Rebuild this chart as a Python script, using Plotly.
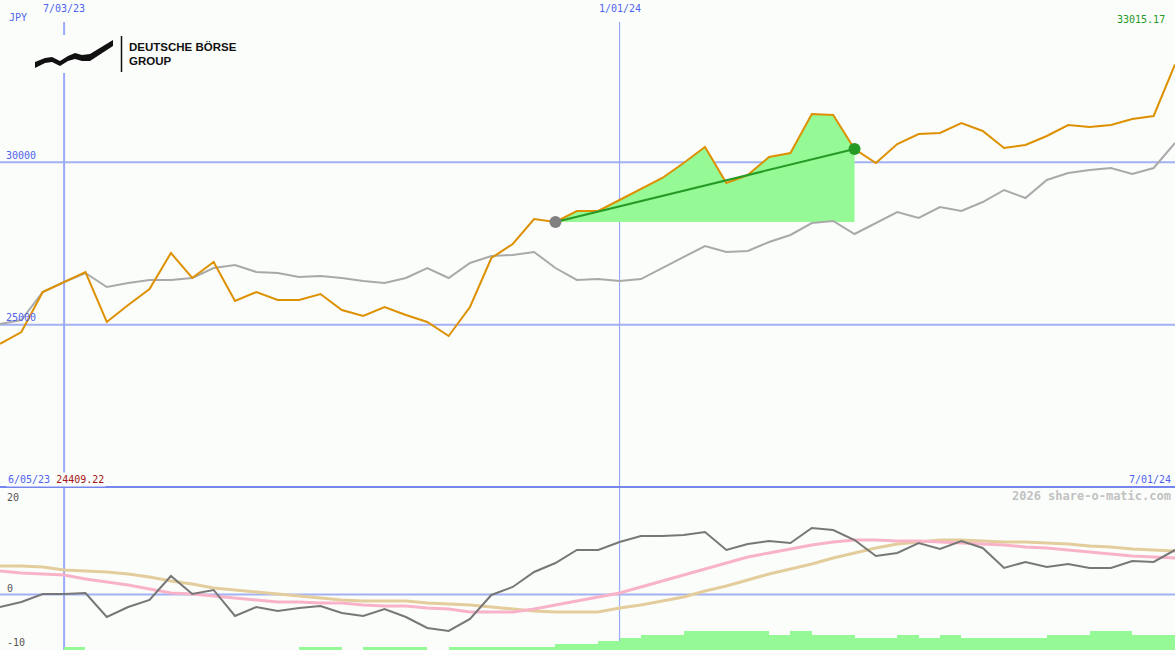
import plotly.graph_objects as go
import pandas as pd

# ---------------- data ----------------
dates = pd.date_range("2023-06-12", periods=56, freq="7D")

price = [24409.22, 24774, 26006, 26314, 26622, 25082, 25606, 26099, 27207, 26437,
         26930, 25729, 26006, 25760, 25760, 25944, 25452, 25267, 25544, 25298,
         25082, 24651, 25544, 27053, 27485, 28255, 28162, 28501, 28501, 28840,
         29179, 29517, 29979, 30472, 29363, 29610, 30164, 30287, 31489, 31458,
         30411, 29979, 30565, 30873, 30903, 31211, 30965, 30441, 30534, 30811,
         31150, 31088, 31150, 31335, 31427, 33015.17]

benchmark = [25020, 25144, 26006, 26314, 26591, 26160, 26283, 26376, 26376, 26437,
             26745, 26838, 26622, 26591, 26468, 26499, 26437, 26345, 26283, 26437,
             26745, 26437, 26899, 27115, 27146, 27238, 26745, 26376, 26406, 26345,
             26406, 26745, 27084, 27423, 27238, 27269, 27546, 27762, 28131, 28193,
             27793, 28131, 28470, 28285, 28624, 28501, 28778, 29148, 28901, 29456,
             29671, 29764, 29825, 29641, 29825, 30595]

osc = [-2.33, -1.40, 0.09, 0.09, 0.28, -4.19, -2.33, -1.02, 3.44, 0.09,
       0.84, -4.00, -2.33, -3.07, -2.51, -2.14, -3.44, -4.00, -2.70, -4.19,
       -6.23, -6.79, -4.56, -0.09, 1.40, 4.19, 5.86, 8.28, 8.28, 9.77,
       10.88, 10.88, 11.07, 11.63, 8.28, 9.40, 9.95, 9.58, 12.37, 12.00,
       10.14, 7.16, 7.72, 9.58, 8.47, 9.95, 8.65, 4.93, 6.05, 5.12,
       5.67, 4.93, 4.93, 6.23, 6.05, 8.28]

osc_fast = [4.37, 4.00, 3.81, 3.63, 2.88, 2.33, 1.77, 1.02, 0.28, 0.09,
            -0.28, -0.65, -1.02, -1.40, -1.40, -1.58, -1.58, -1.95, -2.14, -2.14,
            -2.51, -2.70, -3.26, -3.26, -3.26, -2.70, -1.95, -1.21, -0.47, 0.28,
            1.40, 2.51, 3.63, 4.74, 5.86, 6.98, 7.72, 8.47, 9.21, 9.77,
            10.14, 10.14, 9.95, 9.95, 9.77, 9.58, 9.40, 9.21, 8.84, 8.65,
            8.28, 7.91, 7.53, 7.16, 6.98, 6.79]

osc_slow = [5.30, 5.30, 5.12, 4.56, 4.37, 4.19, 3.81, 3.26, 2.51, 1.95,
            1.21, 0.84, 0.47, 0.09, -0.28, -0.65, -1.02, -1.21, -1.21, -1.21,
            -1.58, -1.77, -1.95, -2.33, -2.70, -3.07, -3.26, -3.26, -3.26, -2.51,
            -1.95, -1.21, -0.47, 0.65, 1.58, 2.70, 3.81, 4.74, 5.67, 6.79,
            7.72, 8.65, 9.40, 9.77, 10.14, 10.14, 9.95, 9.77, 9.77, 9.58,
            9.40, 9.02, 8.84, 8.47, 8.28, 8.09]

# strength bars, one per week interval (55 intervals)
bar_levels = [0, 0, 0, 1, 0, 0, 0, 0, 0, 0,
              0, 0, 0, 0, 1, 1, 0, 1, 1, 1,
              0, 1, 1, 1, 1, 1, 2, 2, 3, 4,
              5, 5, 6.33, 6.33, 6.33, 6.33, 5, 6.33, 5, 5,
              4, 4, 5, 4, 5, 4, 4, 4, 4, 5,
              5, 6.33, 6.33, 5, 5]

tick_dates = ["2023-07-03", "2024-01-01"]
tick_labels = ["7/03/23", "1/01/24"]
tick_widths = [2, 1.2]
price_ticks = [25000, 30000]
osc_ticks = [20, 0, -10]
trend_start, trend_end = 26, 40
first_label = "6/05/23"
last_label = "7/01/24"

# ---------------- style ----------------
W, H = 1175, 650
BG = "#fbfdfb"
GRID = "#a3b1f3"
SEP = "#7686ec"
BLUE_TXT = "#4f63ee"
ORANGE = "#dd9000"
GRAYL = "#a9a9a9"
GREEN_FILL = "#95f995"
GREEN = "#259a25"
MONO = "DejaVu Sans Mono"
split = 163 / H


def py(p):
    return 1 - p / H


def px(p):
    return p / W


fig = go.Figure()

# green gain area between price and the start level
seg_x = list(dates[trend_start:trend_end + 1]) + [dates[trend_end], dates[trend_start]]
seg_y = price[trend_start:trend_end + 1] + [price[trend_start], price[trend_start]]
fig.add_trace(go.Scatter(x=seg_x, y=seg_y, fill="toself", fillcolor=GREEN_FILL,
                         line=dict(width=0), mode="lines", hoverinfo="skip"))

fig.add_trace(go.Scatter(x=dates, y=benchmark, mode="lines",
                         line=dict(color=GRAYL, width=2)))
fig.add_trace(go.Scatter(x=dates, y=price, mode="lines",
                         line=dict(color=ORANGE, width=2)))
fig.add_trace(go.Scatter(x=[dates[trend_start], dates[trend_end]],
                         y=[price[trend_start], price[trend_end]], mode="lines",
                         line=dict(color=GREEN, width=2)))
fig.add_trace(go.Scatter(x=[dates[trend_start]], y=[price[trend_start]], mode="markers",
                         marker=dict(color="#808080", size=12)))
fig.add_trace(go.Scatter(x=[dates[trend_end]], y=[price[trend_end]], mode="markers",
                         marker=dict(color=GREEN, size=12)))

# bottom panel
bar_x = [d + pd.Timedelta(days=3.5) for d in dates[:-1]]
fig.add_trace(go.Bar(x=bar_x, y=bar_levels, width=7 * 86400000,
                     marker=dict(color=GREEN_FILL, line=dict(width=0)),
                     xaxis="x", yaxis="y3"))
fig.add_trace(go.Scatter(x=dates, y=osc_slow, mode="lines", xaxis="x", yaxis="y2",
                         line=dict(color="#e4cd9c", width=3)))
fig.add_trace(go.Scatter(x=dates, y=osc_fast, mode="lines", xaxis="x", yaxis="y2",
                         line=dict(color="#f9b3c9", width=3)))
fig.add_trace(go.Scatter(x=dates, y=osc, mode="lines", xaxis="x", yaxis="y2",
                         line=dict(color="#777777", width=2)))

shapes = []
for v in price_ticks:
    shapes.append(dict(type="line", xref="paper", yref="y", x0=0, x1=1, y0=v, y1=v,
                       line=dict(color=GRID, width=2), layer="below"))
shapes.append(dict(type="line", xref="paper", yref="y2", x0=0, x1=1, y0=0, y1=0,
                   line=dict(color=GRID, width=2), layer="below"))
for d, w in zip(tick_dates, tick_widths):
    shapes.append(dict(type="line", xref="x", yref="paper", x0=d, x1=d, y0=0, y1=py(22),
                       line=dict(color="#9aaaf6", width=w), layer="below"))
shapes.append(dict(type="line", xref="paper", yref="paper", x0=0, x1=1, y0=split, y1=split,
                   line=dict(color=SEP, width=2), layer="below"))
# logo
shapes.append(dict(type="rect", xref="paper", yref="paper", x0=px(30), x1=px(240),
                   y0=py(73), y1=py(35), fillcolor=BG, line=dict(width=0), layer="below"))
top = [(35, 62), (45, 58), (52, 57), (60, 61), (68, 56), (75, 53), (82, 55), (90, 54), (113, 40)]
bot = [(113, 46), (90, 61), (82, 61), (75, 59), (68, 61), (60, 66), (52, 62), (45, 63), (35, 68)]
pts = top + bot
path = "M " + " L ".join(f"{px(a):.5f},{py(b):.5f}" for a, b in pts) + " Z"
shapes.append(dict(type="path", xref="paper", yref="paper", path=path,
                   fillcolor="#111111", line=dict(width=0)))
shapes.append(dict(type="line", xref="paper", yref="paper", x0=px(121.5), x1=px(121.5),
                   y0=py(72), y1=py(36), line=dict(color="#111111", width=1.5)))

ann = []


def label(text, x, y, color, xanchor="left", size=10, xref="paper", bg=None, bold=False):
    d = dict(text=text, x=x, y=y, xref=xref, yref="paper", xanchor=xanchor, yanchor="middle",
             showarrow=False, font=dict(family=MONO, size=size, color=color))
    if bold:
        d["font"]["weight"] = "bold"
    if bg:
        d["bgcolor"] = bg
        d["borderpad"] = 1
    ann.append(d)


label("JPY", px(7), py(18), BLUE_TXT)
for d, t in zip(tick_dates, tick_labels):
    label(t, d, py(9), BLUE_TXT, xanchor="center", xref="x")
label(f"{price[-1]:.2f}", px(1167), py(19), GREEN, xanchor="right")
for v in price_ticks:
    ypix = 487 * (35000 - v) / 15000 - 7
    label(str(v), px(4), py(ypix), BLUE_TXT)
label(f"{first_label} <span style='color:#a51515'>{price[0]:.2f}</span>", px(6), py(479),
      BLUE_TXT, bg=BG)
label(last_label, px(1173), py(479), BLUE_TXT, xanchor="right")
label("2026 share-o-matic.com", px(1173), py(496), "#c2c2c2", xanchor="right", size=12, bold=True)
for v, yp in zip(osc_ticks, [497, 588, 642]):
    label(str(v), px(5), py(yp), "#555555")
ann.append(dict(text="<b>DEUTSCHE BÖRSE</b>", x=px(127), y=py(47), xref="paper", yref="paper",
                xanchor="left", yanchor="middle", showarrow=False,
                font=dict(family="Liberation Sans", size=11.5, color="#111111")))
ann.append(dict(text="<b>GROUP</b>", x=px(127), y=py(61), xref="paper", yref="paper",
                xanchor="left", yanchor="middle", showarrow=False,
                font=dict(family="Liberation Sans", size=11.5, color="#111111")))

fig.update_layout(
    width=W, height=H, margin=dict(l=0, r=0, t=0, b=0),
    paper_bgcolor=BG, plot_bgcolor=BG, showlegend=False, bargap=0,
    xaxis=dict(range=[dates[0], dates[-1]], domain=[0, 1], visible=False, anchor="y2"),
    yaxis=dict(domain=[split, 1], range=[20000, 35000], visible=False),
    yaxis2=dict(domain=[0, split], range=[-10.33, 20], visible=False),
    yaxis3=dict(overlaying="y2", range=[0, 54.33], visible=False),
    shapes=shapes, annotations=ann,
)

fig.write_html("out.html", config={"displayModeBar": False},
               post_script="document.body.style.margin='0px';document.body.style.overflow='hidden';")
